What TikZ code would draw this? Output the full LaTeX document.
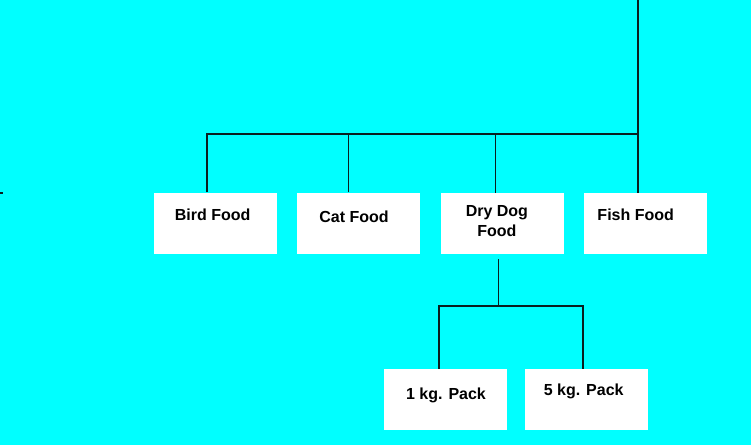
\documentclass[tikz,border=0pt]{standalone}
\usepackage{fontspec}
\setmainfont{Liberation Sans}
\definecolor{bgcyan}{RGB}{0,255,255}
\definecolor{linecol}{RGB}{10,30,30}
\begin{document}
\begin{tikzpicture}[x=1pt,y=-1pt,
  box/.style={rectangle,fill=white,draw=none,minimum width=123pt,minimum height=61pt,inner sep=0pt,anchor=north west},
  lbl/.style={font=\bfseries\fontsize{16pt}{20pt}\selectfont,text height=11.5pt,text depth=0pt,inner sep=0pt,align=center,anchor=center},
  conn/.style={draw=linecol,line width=1.8pt}]
\fill[bgcyan] (0,0) rectangle (751,445);
\useasboundingbox (0,0) rectangle (751,445);
% boxes
\node[box] (bird) at (153.3,192.3) {};
\node[box] (cat) at (296.3,192.3) {};
\node[box] (dry) at (440.7,192.7) {};
\node[box] (fish) at (583.3,192.7) {};
\node[box] (one) at (383.3,368.7) {};
\node[box] (five) at (525,368.7) {};
% labels
\node[lbl] (birdT) at ([shift={(-2.3,22.7)}]bird.north) {Bird Food};
\node[lbl] (catT) at ([shift={(-4,24)}]cat.north) {Cat Food};
\node[lbl] (dryT) at ([shift={(-5.5,38.3)}]dry.north) {Dry Dog\\Food};
\node[lbl] (fishT) at ([shift={(-9.3,22.3)}]fish.north) {Fish Food};
\node[lbl] (oneT) at ([shift={(1,24.6)}]one.north) {1 kg. Pack};
\node[lbl] (fiveT) at ([shift={(-3,21.3)}]five.north) {5 kg. Pack};
% connector points
\coordinate (top) at (638,0);
\coordinate (bus) at (638,134);
\coordinate (birdD) at ([xshift=-8pt]bird.north);
\coordinate (catD) at ([xshift=-9.5pt]cat.north);
\coordinate (dryD) at ([xshift=-7pt]dry.north);
\coordinate (fishD) at ([xshift=-7pt]fish.north);
\coordinate (dryS) at ([shift={(-4,5)}]dry.south);
\coordinate (lowbus) at ([shift={(0,47)}]dryS);
\coordinate (oneD) at ([xshift=-5.7pt]one.north);
\coordinate (fiveD) at ([xshift=-4pt]five.north);
\coordinate (tick) at (0,193);
% connectors
\draw[conn] (top) -- (fishD);
\draw[conn] (birdD) |- (bus);
\draw[conn] (catD) -- (catD |- bus);
\draw[conn] (dryD) -- (dryD |- bus);
\draw[conn] (dryS) -- (lowbus);
\draw[conn] (oneD) |- (lowbus) -| (fiveD);
\draw[conn] (tick) -- ++(3,0);
\end{tikzpicture}
\end{document}
